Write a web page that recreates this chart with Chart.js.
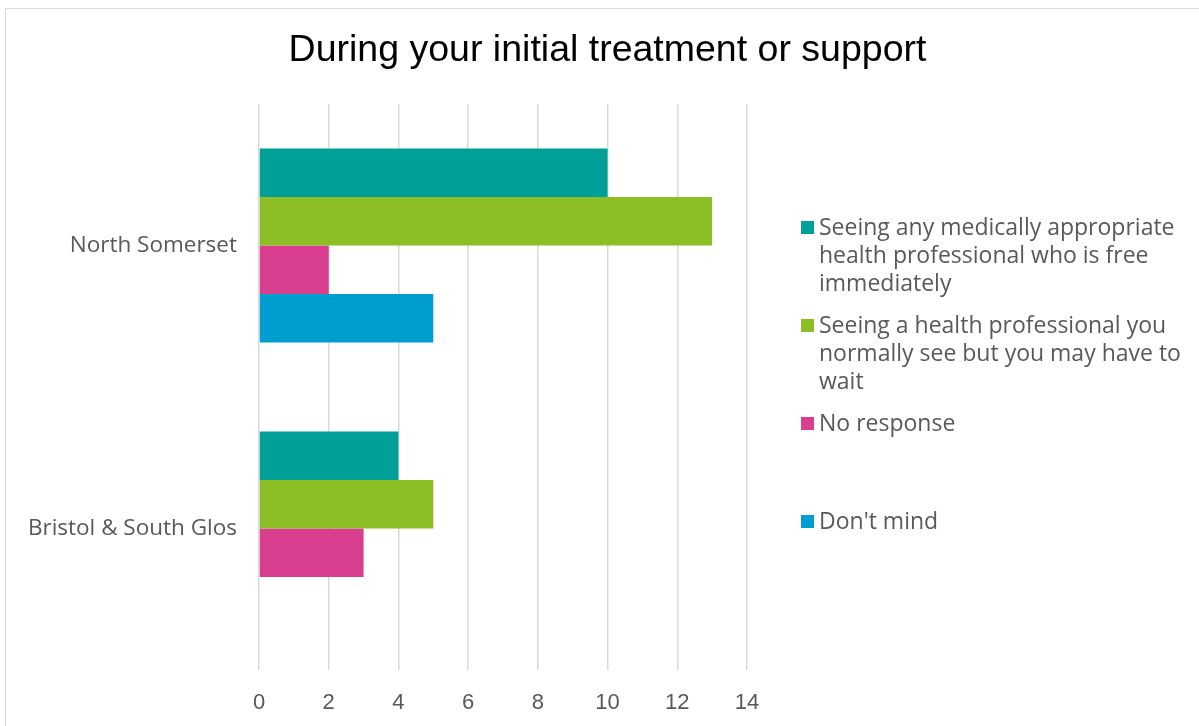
<!DOCTYPE html>
<html>
<head>
<meta charset="utf-8">
<script src="https://cdn.jsdelivr.net/npm/chart.js@4"></script>
<style>
  body { margin: 0; background: #ffffff; overflow: hidden; }
  #marco { position: absolute; left: 5px; top: 8px; width: 1300px; height: 800px; border: 1px solid #d9d9d9; }
  #grafico { position: absolute; left: 0; top: 0; }
</style>
</head>
<body>
<div id="marco"></div>
<canvas id="grafico" width="1199" height="726"></canvas>
<script>
// Datos del grafico
const categorias = ['North Somerset', 'Bristol & South Glos'];
const series = [
  'Seeing any medically appropriate health professional who is free immediately',
  'Seeing a health professional you normally see but you may have to wait',
  'No response',
  "Don't mind"
];
const valoresCualquiera = [10, 4];
const valoresHabitual = [13, 5];
const valoresSinRespuesta = [2, 3];
const valoresNoImporta = [5, 0];

// Lineas de la leyenda tal como aparecen cortadas
const lineasLeyenda = [
  ['Seeing any medically appropriate', 'health professional who is free', 'immediately'],
  ['Seeing a health professional you', 'normally see but you may have to', 'wait'],
  ['No response'],
  ["Don't mind"]
];

const colores = ['#00A098', '#8CBE26', '#DA3E8E', '#009DD1'];
const valores = [valoresCualquiera, valoresHabitual, valoresSinRespuesta, valoresNoImporta];

// Creamos los datasets
const datasets = [];
for (let i = 0; i < series.length; i++) {
  datasets.push({
    label: series[i],
    data: valores[i],
    backgroundColor: colores[i],
    borderWidth: 0,
    categoryPercentage: 0.686,
    barPercentage: 1
  });
}

const gris = '#595959';
const fuente = 'Open Sans';

// Plugin para pintar la leyenda a la derecha con el texto partido en lineas
const leyendaDerecha = {
  id: 'leyendaDerecha',
  afterDraw(chart) {
    const c = chart.ctx;
    c.save();
    c.font = '23px "' + fuente + '"';
    c.textBaseline = 'alphabetic';
    c.textAlign = 'left';
    chart.data.datasets.forEach(function(ds, i) {
      const top = 221 + i * 98;
      c.fillStyle = ds.backgroundColor;
      c.fillRect(801, top, 13, 13);
      c.fillStyle = gris;
      lineasLeyenda[i].forEach(function(linea, j) {
        c.fillText(linea, 819, top + 14 + j * 28);
      });
    });
    c.restore();
  }
};

const ctx = document.getElementById('grafico');

new Chart(ctx, {
  type: 'bar',
  data: { labels: categorias, datasets: datasets },
  plugins: [leyendaDerecha],
  options: {
    indexAxis: 'y',
    responsive: false,
    animation: false,
    layout: { padding: { left: 16, right: 0, top: 0, bottom: 0 } },
    plugins: {
      title: {
        display: true,
        text: 'During your initial treatment or support',
        color: '#000000',
        font: { family: 'Liberation Sans', size: 37.5, weight: 'normal', lineHeight: 1.2 },
        padding: { top: 28, bottom: 31 }
      },
      legend: { display: false },
      tooltip: { enabled: false }
    },
    scales: {
      x: {
        min: 0,
        max: 14,
        ticks: { stepSize: 2, color: gris, padding: 20, font: { family: 'Liberation Sans', size: 22 } },
        grid: { color: '#d9d9d9', lineWidth: 1.5, drawTicks: false },
        border: { display: false },
        afterFit: function(scale) { scale.height = 56; }
      },
      y: {
        ticks: { color: gris, padding: 22, font: { family: fuente, size: 22.5 } },
        grid: { display: false, drawTicks: false },
        border: { display: false },
        afterFit: function(scale) { scale.width = 243; }
      },
      // eje vacio que deja sitio a la leyenda
      hueco: {
        type: 'category',
        axis: 'y',
        position: 'right',
        ticks: { display: false },
        grid: { display: false },
        border: { display: false },
        afterFit: function(scale) { scale.width = 452; }
      }
    }
  }
});
</script>
</body>
</html>
